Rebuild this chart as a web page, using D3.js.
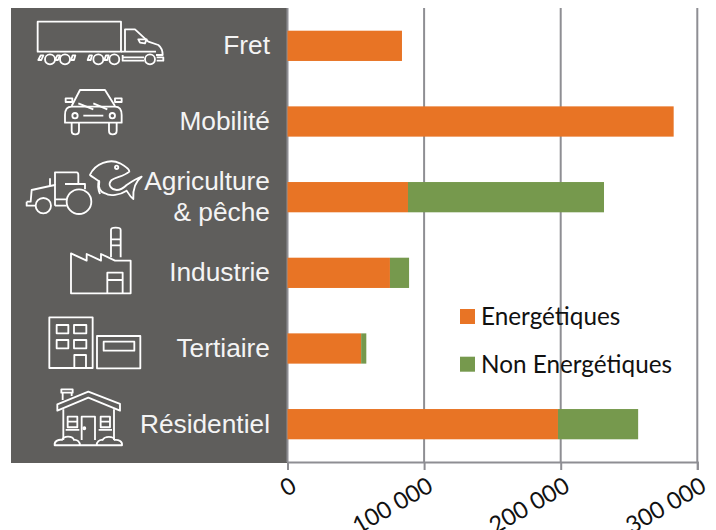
<!DOCTYPE html>
<html>
<head>
<meta charset="utf-8">
<script src="https://cdn.jsdelivr.net/npm/d3@7"></script>
<style>
  html, body { margin: 0; padding: 0; background: #fff; overflow: hidden; }
  svg { display: block; }
</style>
</head>
<body>
<div id="chart"></div>
<script>
const categories = ['Fret', 'Mobilité', 'Agriculture\n& pêche', 'Industrie', 'Tertiaire', 'Résidentiel'];
const energetiques = [83800, 282700, 88200, 75000, 53900, 198000];
const nonEnergetiques = [0, 0, 143500, 14000, 3800, 58700];
const seriesNames = ['Energétiques', 'Non Energétiques'];
const xTicks = [0, 100000, 200000, 300000];
const xTickLabels = ['0', '100 000', '200 000', '300 000'];

const size = { width: 716, height: 530 };
const margin = { top: 8, right: 19, bottom: 68, left: 287.5 };
const colors = ['#e87425', '#76994d'];
const lineColor = '#8e8e93';
const panelColor = '#5f5e5c';

const svg = d3.select('#chart').append('svg').attr('width', size.width).attr('height', size.height);

const x = d3.scaleLinear().domain([0, 300000]).range([margin.left, 697.3]);
const y = d3
  .scaleBand()
  .domain(categories)
  .range([margin.top, size.height - margin.bottom])
  .paddingInner(0.6)
  .paddingOuter(0.3);

// Dark panel behind the category labels
svg
  .append('rect')
  .attr('x', 11)
  .attr('y', margin.top)
  .attr('width', margin.left - 11)
  .attr('height', size.height - margin.bottom - margin.top + 1)
  .attr('fill', panelColor);

// Gridlines
svg
  .append('g')
  .selectAll('line')
  .data(xTicks)
  .enter()
  .append('line')
  .attr('x1', (d) => x(d))
  .attr('x2', (d) => x(d))
  .attr('y1', margin.top)
  .attr('y2', size.height - margin.bottom)
  .attr('stroke', lineColor)
  .attr('stroke-width', 2);

// Stacked bars
const stack = categories.map((c, i) => ({ c, e: energetiques[i], n: nonEnergetiques[i] }));
svg
  .append('g')
  .selectAll('rect')
  .data(stack)
  .enter()
  .append('rect')
  .attr('x', (d) => x(0))
  .attr('y', (d) => y(d.c))
  .attr('width', (d) => x(d.e) - x(0))
  .attr('height', y.bandwidth())
  .attr('fill', colors[0]);
svg
  .append('g')
  .selectAll('rect')
  .data(stack.filter((d) => d.n > 0))
  .enter()
  .append('rect')
  .attr('x', (d) => x(d.e))
  .attr('y', (d) => y(d.c))
  .attr('width', (d) => x(d.e + d.n) - x(d.e))
  .attr('height', y.bandwidth())
  .attr('fill', colors[1]);

// Axis
const axis = svg
  .append('g')
  .attr('transform', `translate(0, ${size.height - margin.bottom})`)
  .call(
    d3
      .axisBottom(x)
      .tickValues(xTicks)
      .tickSize(8)
      .tickFormat((d, i) => xTickLabels[i]),
  );
axis.selectAll('.domain, .tick line').attr('stroke', lineColor).attr('stroke-width', 2);
axis
  .selectAll('.tick text')
  .attr('font-family', 'Lato, "Noto Sans", sans-serif')
  .attr('font-size', 23.5)
  .attr('fill', '#111')
  .attr('text-anchor', 'end')
  .attr('dx', 0)
  .attr('dy', 0)
  .attr('y', 0)
  .attr('transform', 'translate(10, 28.5) rotate(-30)');

// Category labels
const labels = svg
  .append('g')
  .style('font-family', '"Liberation Sans", Arial, sans-serif')
  .attr('fill', '#f4f4f4')
  .attr('font-size', 26.3)
  .attr('text-anchor', 'end');
stack.forEach((d) => {
  const lines = d.c.split('\n');
  const mid = y(d.c) + y.bandwidth() / 2;
  lines.forEach((t, i) => {
    labels
      .append('text')
      .text(t)
      .attr('x', 270)
      .attr('y', mid + 8.5 + (i - (lines.length - 1) / 2) * 31);
  });
});

// Legend
const legend = svg.append('g').attr('font-family', 'Lato, "Noto Sans", sans-serif').attr('font-size', 24.3).attr('fill', '#111');
seriesNames.forEach((name, i) => {
  const ly = 309 + i * 47.7;
  legend.append('rect').attr('x', 460).attr('y', ly).attr('width', 15).attr('height', 15).attr('fill', colors[i]);
  legend.append('text').text(name).attr('x', 481).attr('y', ly + 16);
});

// Pictograms, traced in 3x units
const icons = svg
  .append('g')
  .attr('fill', 'none')
  .attr('stroke', '#fff')
  .attr('stroke-width', 5.5)
  .attr('stroke-linejoin', 'round')
  .attr('transform', 'scale(0.3333)');

const iconPaths = [
  // truck
  'M113 65H363V155H113Z',
  'M375 155V88H405L445 125L475 135Q488 145 488 165H468',
  'M363 155H468M368 165V182H432M368 172H432',
  'M415 118H440L435 130L420 128Z',
  'M115 180L122 166H130L124 180ZM165 180L172 166H180L174 180ZM213 180L218 166H226L222 180ZM263 180L268 166H276L272 180ZM313 180L318 166H326L322 180Z',
  'M470 172H490V182H470',
  // car
  'M215 318L240 270H315L345 318',
  'M195 345Q195 320 215 320H345Q365 320 365 345V368H195Z',
  'M250 347H310M235 310L280 328M280 310L322 328',
  'M215 368V392Q215 403 226 403Q237 403 237 392V368M327 368V392Q327 403 338 403Q350 403 350 392V368',
  'M197 295H217V306H197ZM345 295H365V306H345Z',
  // tractor
  'M165 555V517H230Q235 517 235 525V550',
  'M80 605H92L95 570L150 558L165 555V617',
  'M150 535V558M195 552H255V568',
  'M165 598H200M165 617H200M80 605V617H107',
  // fish
  'M270 525C285 490 330 475 360 490C378 500 388 510 388 515C370 530 350 530 335 540C320 555 335 570 350 570C365 570 375 560 380 555C395 545 410 535 425 530C405 545 398 565 400 597C390 590 385 580 380 572C360 585 330 590 315 580C298 575 295 560 298 545C285 535 275 530 270 525Z',
  'M297 540C292 555 295 570 300 582',
  // factory
  'M213 880V760L260 782V762L303 782V762L345 782L392 782V880Z',
  'M333 772V690Q333 683 347 683Q362 683 362 690V772M333 718H362M333 736H362',
  'M322 880V818H368V880M322 840H368',
  // offices
  'M148 952H278V1104H148ZM291 1008H421V1105H291ZM311 1025H403V1052H311Z',
  'M170 975H205V1000H170ZM222 975H259V1000H222ZM170 1020H205V1045H170ZM222 1020H259V1045H222ZM223 1065H258V1104H223Z',
  // house
  'M172 1232V1213L265 1175L360 1212V1232L265 1193Z',
  'M188 1200V1178H215V1188M184 1168H218V1178H184Z',
  'M190 1228V1320M342 1228V1320',
  'M245 1320V1250H285V1320',
  'M203 1250H232V1282H203ZM302 1250H330V1282H302ZM203 1265H232M302 1265H330M197 1290H238M296 1290H336',
  'M164 1336C162 1322 178 1318 186 1320C192 1306 218 1308 222 1320C232 1318 240 1326 240 1336ZM290 1336C290 1326 298 1318 308 1320C314 1308 340 1308 344 1320C356 1318 368 1326 366 1336ZM240 1336H290',
];
icons.selectAll('path').data(iconPaths).enter().append('path').attr('d', (d) => d);

const wheels = [
  [150, 178, 15], [195, 178, 15], [295, 178, 15], [343, 178, 15], [450, 178, 15],
  [225, 347, 8], [337, 347, 8],
  [237, 605, 37], [130, 617, 23],
  [350, 502, 5],
];
icons
  .selectAll('circle')
  .data(wheels)
  .enter()
  .append('circle')
  .attr('cx', (d) => d[0])
  .attr('cy', (d) => d[1])
  .attr('r', (d) => d[2]);
icons.append('circle').attr('cx', 253).attr('cy', 1285).attr('r', 3).attr('fill', '#fff');
</script>
</body>
</html>
